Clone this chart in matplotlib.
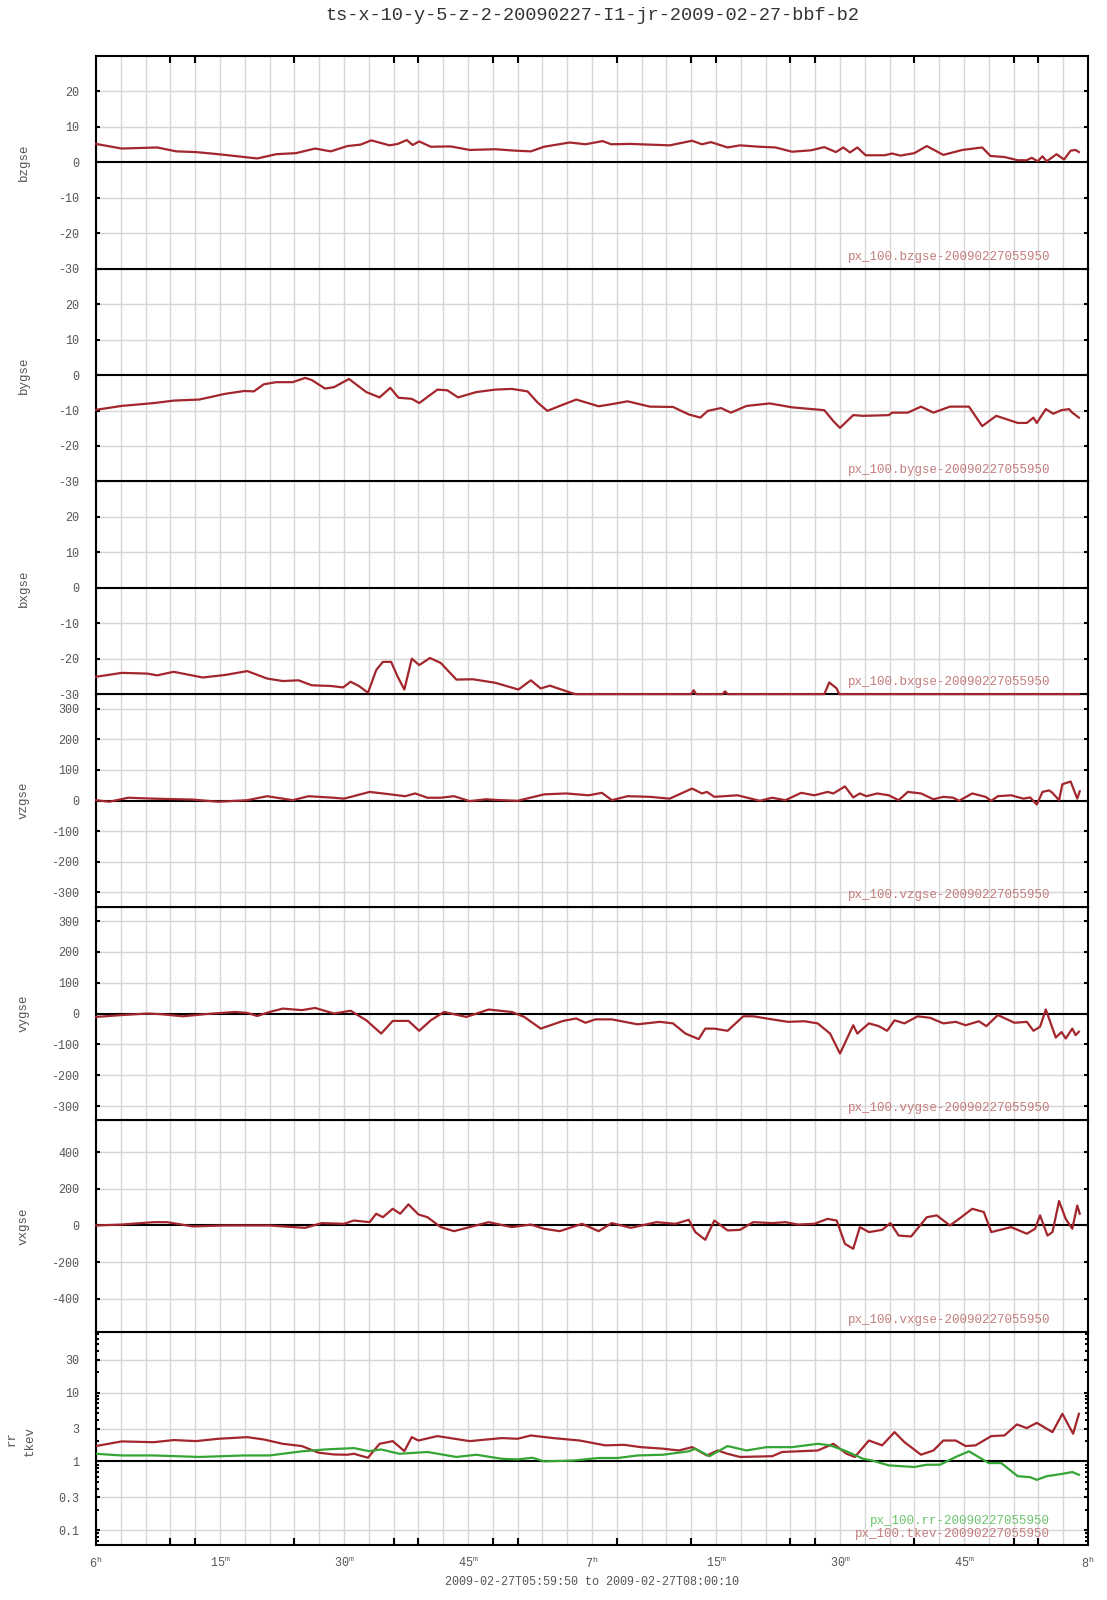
import numpy as np
import matplotlib.pyplot as plt
from matplotlib.ticker import FixedLocator, NullFormatter, LogLocator

plt.rcParams['font.family'] = ['Liberation Mono', 'DejaVu Sans Mono']
plt.rcParams['mathtext.fontset'] = 'custom'
plt.rcParams['mathtext.rm'] = 'Liberation Mono'

# time axis: minutes after 06:00 UT
bz_t = [0, 3.1, 7.4, 9.7, 12.1, 14.8, 19.5, 21.8, 24.2, 26.5, 28.4, 30.4, 32, 33.3, 35.5, 36.5,
        37.6, 38.3, 39.1, 40.5, 42.9, 45.2, 48.3, 50.7, 52.6, 54.2, 57.3, 59.2, 61.3, 62.3, 64.7,
        67, 69.4, 72.1, 73.3, 74.4, 76.4, 77.9, 80.3, 82.2, 84.2, 86.5, 88.1, 89.5, 90.4, 91.2,
        92.1, 93.1, 95.4, 96.3, 97.3, 99, 100.5, 102.5, 104.8, 107.2, 108.2, 109.9, 111.5, 112.6,
        113.2, 113.9, 114.5, 115, 116.2, 117.1, 117.9, 118.5, 118.9]
bz = [5.2, 3.9, 4.2, 3.1, 2.9, 2.3, 1.1, 2.3, 2.6, 3.9, 3.1, 4.6, 5.0, 6.2, 4.8, 5.2,
      6.3, 4.9, 5.9, 4.4, 4.5, 3.5, 3.7, 3.3, 3.1, 4.4, 5.6, 5.1, 6.0, 5.1, 5.2,
      5.0, 4.8, 6.1, 5.1, 5.7, 4.2, 4.8, 4.4, 4.2, 3.0, 3.4, 4.3, 2.9, 4.2, 2.8,
      4.2, 2.0, 2.0, 2.5, 1.9, 2.6, 4.6, 2.1, 3.5, 4.2, 1.8, 1.5, 0.6, 0.6,
      1.3, 0.3, 1.7, 0.3, 2.3, 0.8, 3.3, 3.5, 2.9]

by_t = [0, 3.1, 7, 9.4, 12.5, 15.6, 17.9, 19.1, 20.3, 21.8, 23.8, 25.3, 26.1, 27.7, 28.8, 30.6,
        32.7, 34.3, 35.6, 36.6, 38.2, 39.1, 41.3, 42.5, 43.8, 46, 48.3, 50.3, 52.2, 53.4, 54.6,
        56.1, 58.1, 60.8, 62.4, 64.3, 67, 69.8, 71.7, 73.1, 74, 75.6, 76.8, 78.7, 81.5, 84.2,
        88.1, 89.2, 90, 91.6, 92.8, 95.9, 96.3, 98.2, 99.8, 101.3, 103.3, 105.6, 107.2, 108.9,
        111.5, 112.6, 113.4, 113.8, 114.9, 115.8, 116.8, 117.7, 118.1, 118.9]
by = [-9.8, -8.7, -7.9, -7.2, -6.9, -5.3, -4.5, -4.6, -2.6, -2.0, -2.0, -0.8, -1.4, -3.8, -3.4, -1.1,
      -4.8, -6.3, -3.6, -6.4, -6.7, -7.9, -4.1, -4.3, -6.3, -4.8, -4.1, -3.9, -4.6, -7.7, -10.1,
      -8.7, -6.9, -8.8, -8.2, -7.4, -8.9, -9.0, -11.1, -12.0, -10.1, -9.3, -10.6, -8.7, -8.0, -9.1,
      -9.9, -13.0, -14.9, -11.3, -11.5, -11.3, -10.6, -10.6, -8.9, -10.6, -8.9, -8.9, -14.4, -11.5,
      -13.5, -13.5, -12.0, -13.5, -9.6, -10.9, -9.9, -9.6, -10.6, -12.0]

bx_t = [0, 3.1, 6.2, 7.4, 9.4, 12.9, 15.6, 18.3, 20.7, 22.6, 24.5, 26.1, 28.4, 29.9, 30.8, 31.8,
        32.9, 33.9, 34.7, 35.7, 36.5, 37.3, 38.2, 39.1, 40.4, 41.7, 43.6, 45.6, 48.3, 51.1, 52.6,
        53.8, 54.9, 57.7, 58.0, 72.0, 72.3, 72.6, 75.8, 76.1, 76.4, 88.1, 88.7, 89.6, 89.9, 118.9]
bx = [-25.1, -24.0, -24.2, -24.7, -23.7, -25.3, -24.6, -23.5, -25.6, -26.3, -26.1, -27.5, -27.7, -28.1, -26.5, -27.7,
      -29.6, -23.2, -20.9, -20.9, -25.1, -28.7, -20.0, -21.8, -19.8, -21.2, -25.9, -25.8, -26.8, -28.7, -26.1,
      -28.4, -27.6, -29.8, -30.0, -30.0, -28.9, -30.0, -30.0, -29.2, -30.0, -30.0, -26.7, -28.4, -30.0, -30.0]

vz_t = [0, 1.6, 3.9, 7, 11.7, 14.8, 18.3, 20.7, 23.8, 25.7, 28.8, 30, 33.1, 34.7, 37.4, 38.6,
        40.1, 41.7, 43.3, 45.2, 47.2, 49.1, 51, 54.2, 56.9, 59.6, 61.2, 62.4, 64.3, 67, 69.4,
        72.1, 73.3, 73.9, 74.8, 77.6, 80.3, 81.8, 83.4, 85.3, 86.9, 88.5, 89.2, 90.6, 91.6, 92.4,
        93.2, 94.5, 95.9, 97.1, 98.2, 99.8, 101.3, 102.5, 103.7, 104.4, 106, 107.6, 108.3, 109.1,
        110.7, 112.2, 113, 113.8, 114.5, 115.3, 115.7, 116.5, 116.9, 117.9, 118.7, 119]
vz = [1, -4, 9, 6, 3, -4, 1, 14, 1, 14, 9, 6, 28, 23, 14, 23,
      9, 9, 14, -2, 4, 1, -1, 20, 23, 17, 25, 1, 14, 12, 6,
      39, 23, 28, 12, 17, -1, 9, 1, 25, 17, 28, 23, 46, 10, 23,
      14, 23, 17, 1, 28, 23, 4, 12, 9, -1, 23, 12, -1, 14,
      17, 6, 10, -13, 28, 33, 25, 1, 53, 62, 6, 30]

vy_t = [0, 3.1, 6.2, 7.8, 10.5, 13.2, 16.8, 18.3, 19.5, 21, 22.6, 24.9, 26.5, 28.8, 30.8, 32.7,
        34.5, 35.9, 37.8, 39.1, 40.5, 42.1, 44.8, 47.5, 50.3, 51.8, 53.8, 56.5, 58.1, 59.2, 60.4,
        62.4, 65.5, 68.2, 69.8, 71.3, 72.9, 73.7, 74.8, 76.4, 78.3, 79.5, 81.8, 83.7, 85.7, 87.3,
        88.8, 90, 91.6, 92.1, 93.5, 94.7, 95.7, 96.6, 97.8, 99.4, 100.9, 102.5, 104, 105.2,
        106.8, 107.7, 109.1, 111.1, 112.6, 113.4, 114.2, 114.9, 116.1, 116.8, 117.3, 118.1, 118.5, 118.9]
vy = [-11, -5, 0, -2, -9, -2, 5, 2, -8, 5, 16, 11, 18, 0, 9, -22,
      -65, -24, -24, -56, -22, 5, -11, 13, 5, -11, -49, -24, -16, -30, -19,
      -19, -35, -27, -32, -65, -83, -49, -49, -56, -9, -9, -19, -27, -25, -32,
      -65, -130, -38, -65, -32, -41, -56, -22, -32, -9, -14, -32, -27, -38,
      -25, -41, -5, -30, -27, -56, -43, 13, -78, -60, -81, -49, -70, -59]

vx_t = [0, 3.1, 7, 8.6, 11.7, 15.6, 21, 22.6, 25.3, 27.3, 30, 31.2, 33.1, 33.9, 34.7, 35.9,
        36.8, 37.8, 39, 40.1, 41.7, 43.3, 45.2, 47.5, 50.3, 52.6, 54.2, 56.1, 58.8, 60.8, 62.4,
        64.7, 67.8, 70.1, 71.7, 72.5, 73.7, 74.8, 76.4, 77.9, 79.5, 81.8, 83.4, 84.9, 86.9, 88.5,
        89.6, 90.6, 91.6, 92.4, 93.5, 95.1, 96.1, 97.1, 98.6, 100.5, 101.7, 103.3, 104.4, 106,
        107.4, 108.3, 110.7, 112.6, 113.6, 114.2, 115.1, 115.7, 116.5, 117.3, 118.1, 118.7, 119]
vx = [0, 5, 18, 18, -5, 0, 0, -5, -13, 13, 9, 27, 18, 64, 45, 91,
      64, 115, 60, 45, -9, -31, -9, 18, -9, 5, -18, -31, 9, -31, 13,
      -13, 18, 9, 31, -36, -78, 27, -27, -24, 18, 13, 18, 5, 9, 36,
      27, -100, -127, -9, -36, -24, 13, -55, -60, 45, 55, 0, 36, 91,
      73, -36, -9, -45, -18, 55, -55, -36, 133, 36, -18, 109, 64]

tkev_t = [0, 3.1, 7, 9.4, 12.1, 14.8, 18.3, 20.3, 22.6, 24.9, 26.9, 28.8, 30.4, 31.2, 32.9, 34.3,
          35.9, 37.3, 38.2, 39, 41.3, 45.2, 49.1, 51, 52.6, 55.3, 58.5, 61.6, 63.9, 65.9, 68.6,
          70.5, 72.1, 73.9, 75.2, 76.4, 77.9, 81.8, 83, 84.9, 87.3, 89.2, 90.8, 91.8, 93.5, 95.1,
          96.6, 97.8, 99.8, 101.3, 102.5, 104, 105.2, 106.4, 108.3, 109.9, 111.4, 112.6, 113.8,
          115.7, 116.9, 118.2, 118.9]
tkev = [1.67, 1.95, 1.9, 2.04, 1.97, 2.13, 2.25, 2.08, 1.80, 1.67, 1.34, 1.26, 1.25, 1.29, 1.13, 1.80,
        1.97, 1.41, 2.25, 2.01, 2.33, 1.97, 2.18, 2.13, 2.38, 2.18, 2.01, 1.71, 1.74, 1.61, 1.53,
        1.44, 1.61, 1.22, 1.44, 1.29, 1.16, 1.19, 1.37, 1.40, 1.44, 1.80, 1.29, 1.16, 2.01, 1.71,
        2.66, 1.90, 1.25, 1.44, 2.01, 2.01, 1.67, 1.71, 2.33, 2.38, 3.44, 3.04, 3.63,
        2.66, 4.91, 2.52, 4.91]

rr_t = [0, 3.1, 7, 12.5, 17.9, 21, 24.9, 27.7, 31.2, 33, 34.5, 36.7, 40.1, 43.6, 46, 49.1,
        51, 52.8, 54.2, 57.7, 60.8, 63.1, 65.5, 68.6, 71.7, 72.5, 74.2, 76.4, 78.7, 81.1, 84.2,
        87.3, 88.8, 90.8, 92.8, 93.9, 95.9, 99, 100.5, 102.1, 104, 105.6, 108, 109.5, 111.5,
        113, 113.8, 115, 116.9, 118.1, 118.9]
rr = [1.29, 1.22, 1.22, 1.16, 1.22, 1.22, 1.40, 1.49, 1.56, 1.41, 1.49, 1.29, 1.37, 1.16, 1.25, 1.09,
      1.07, 1.13, 1.0, 1.03, 1.12, 1.12, 1.22, 1.25, 1.40, 1.53, 1.19, 1.67, 1.44, 1.61, 1.61,
      1.80, 1.71, 1.40, 1.09, 1.03, 0.875, 0.83, 0.895, 0.895, 1.16, 1.40, 0.946, 0.946, 0.61,
      0.59, 0.54, 0.61, 0.66, 0.70, 0.64]

odd_ticks = [9, 12, 24, 36, 39, 48, 51, 60, 63, 72, 75, 84, 87, 99, 111, 114]
label_pos = [0, 15, 30, 45, 60, 75, 90, 105, 120]
label_txt = ['6$^{\\rm h}$', '15$^{\\rm m}$', '30$^{\\rm m}$', '45$^{\\rm m}$', '7$^{\\rm h}$',
             '15$^{\\rm m}$', '30$^{\\rm m}$', '45$^{\\rm m}$', '8$^{\\rm h}$']

red = '#a3262c'
green = '#35a535'
grid_c = '#d6d6d6'
txt_c = '#555555'

panels = [
    ('bzgse', bz_t, bz, (-30, 30), [-30, -20, -10, 0, 10, 20]),
    ('bygse', by_t, by, (-30, 30), [-30, -20, -10, 0, 10, 20]),
    ('bxgse', bx_t, bx, (-30, 30), [-30, -20, -10, 0, 10, 20]),
    ('vzgse', vz_t, vz, (-347, 347), [-300, -200, -100, 0, 100, 200, 300]),
    ('vygse', vy_t, vy, (-344, 346), [-300, -200, -100, 0, 100, 200, 300]),
    ('vxgse', vx_t, vx, (-582, 577), [-400, -200, 0, 200, 400]),
]

fig = plt.figure(figsize=(11.07, 16.0), dpi=100)
L, W = 96 / 1107, 992 / 1107
top = 1 - 56 / 1600
H = 1489 / 7 / 1600

axes = []
for i in range(7):
    ax = fig.add_axes([L, top - (i + 1) * H, W, H])
    ax.set_zorder(10 - i)   # upper panels drawn over the shared border
    axes.append(ax)
    ax.set_xlim(0, 120)
    for x in np.arange(0, 121, 3):
        ax.axvline(x, color=grid_c, lw=1, zorder=0, snap=True)
    for s in ax.spines.values():
        s.set_linewidth(1.5)
    ax.tick_params(axis='y', which='both', direction='in', length=3, width=1.5,
                   left=True, right=True, labelsize=8.5, labelcolor=txt_c, pad=12)
    ax.tick_params(axis='x', which='both', bottom=False, top=False, labelbottom=False)

for ax, (name, t, v, lim, ticks) in zip(axes[:6], panels):
    ax.set_ylim(*lim)
    ax.set_yticks(ticks)
    ax.set_yticklabels([str(k) for k in ticks])
    for k in ticks:
        if k != 0:
            ax.axhline(k, color=grid_c, lw=1, zorder=0, snap=True)
    ax.axhline(0, color='black', lw=1.5, zorder=1)
    ax.plot(t, v, color=red, lw=1.6, zorder=3, clip_on=False, solid_joinstyle='round')
    ax.set_ylabel(name, fontsize=9, color=txt_c)
    ax.yaxis.set_label_coords(-66 / 992, 0.5)
    ax.text(0.962, 0.056, 'px_100.' + name + '-20090227055950', transform=ax.transAxes,
            ha='right', va='center', fontsize=9, color='#c47c7c')

# log panel
ax = axes[6]
ax.set_yscale('log')
ax.set_ylim(0.0612, 74.8)
log_ticks = [0.1, 0.3, 1, 3, 10, 30]
ax.yaxis.set_major_locator(FixedLocator(log_ticks))
ax.set_yticklabels(['0.1', '0.3', '1', '3', '10', '30'])
ax.yaxis.set_minor_locator(LogLocator(base=10, subs=np.arange(2, 10)))
ax.yaxis.set_minor_formatter(NullFormatter())
ax.tick_params(axis='y', which='minor', length=2, width=1.5)
for k in log_ticks:
    if k != 1:
        ax.axhline(k, color=grid_c, lw=1, zorder=0, snap=True)
ax.axhline(1, color='black', lw=1.5, zorder=1)
ax.plot(tkev_t, tkev, color=red, lw=1.6, zorder=3, solid_joinstyle='round')
ax.plot(rr_t, rr, color=green, lw=1.6, zorder=3, solid_joinstyle='round')
ax.text(0.962, 0.113, 'px_100.rr-20090227055950', transform=ax.transAxes,
        ha='right', va='center', fontsize=9, color='#6cc46c')
ax.text(0.962, 0.053, 'px_100.tkev-20090227055950', transform=ax.transAxes,
        ha='right', va='center', fontsize=9, color='#c47c7c')
fig.text(12 / 1107, 1 - 1438 / 1600, 'rr', rotation=90, ha='center', va='center',
         fontsize=9, color=txt_c)
fig.text(30 / 1107, 1 - 1441 / 1600, 'tkev', rotation=90, ha='center', va='center',
         fontsize=9, color=txt_c)

# x ticks: odd tick marks at top of first and bottom of last panel, labels every 15 min
for a, side in ((axes[0], 'top'), (axes[6], 'bottom')):
    a.xaxis.set_minor_locator(FixedLocator(odd_ticks))
    a.xaxis.set_minor_formatter(NullFormatter())
    if side == 'top':
        a.tick_params(axis='x', which='minor', top=True, direction='in', length=5, width=1.5)
    else:
        a.tick_params(axis='x', which='minor', bottom=True, direction='in', length=5, width=1.5)

axes[6].set_xticks(label_pos)
axes[6].set_xticklabels(label_txt)
axes[6].tick_params(axis='x', which='major', bottom=True, length=0, labelbottom=True,
                    labelsize=8.5, labelcolor=txt_c, pad=8)

fig.text(592 / 1107, 1 - 16 / 1600, 'ts-x-10-y-5-z-2-20090227-I1-jr-2009-02-27-bbf-b2',
         ha='center', va='center', fontsize=13.4, color='#333333')
fig.text(592 / 1107, 1 - 1582 / 1600, '2009-02-27T05:59:50 to 2009-02-27T08:00:10',
         ha='center', va='center', fontsize=8.5, color=txt_c)

fig.savefig('out.png', dpi=100)
